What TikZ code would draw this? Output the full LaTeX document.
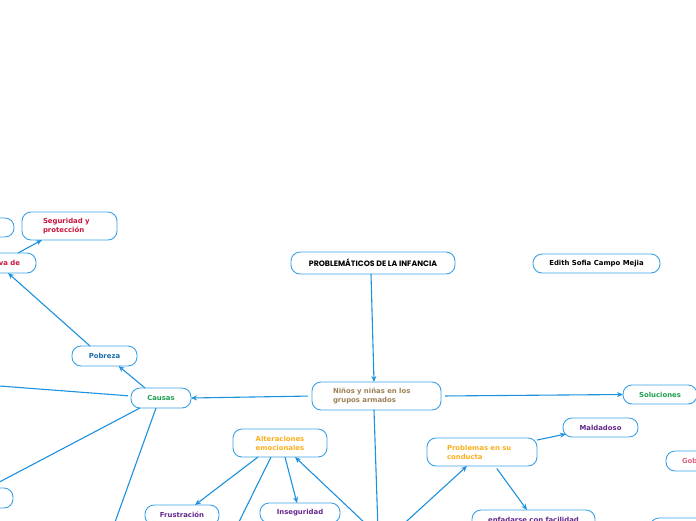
\documentclass[tikz,border=0pt]{standalone}
\usepackage{fontspec}
\setmainfont{DejaVu Sans}
\newfontfamily\titlefont{Poppins}
\usetikzlibrary{arrows.meta}
\definecolor{lineblue}{RGB}{30,145,222}
\definecolor{boxblue}{RGB}{60,162,232}
\definecolor{crimsontxt}{RGB}{200,20,60}
\definecolor{olivetxt}{RGB}{155,130,85}
\definecolor{greentxt}{RGB}{30,160,80}
\definecolor{bluetxt}{RGB}{25,110,170}
\definecolor{goldtxt}{RGB}{250,175,30}
\definecolor{purpletxt}{RGB}{100,40,140}
\definecolor{pinktxt}{RGB}{225,100,130}
\tikzset{
  box/.style={draw=boxblue, line width=0.9pt, rounded corners=9pt, fill=white,
    font=\bfseries\fontsize{6.9}{9}\selectfont, inner ysep=0pt, outer sep=0pt},
  conn/.style={draw=lineblue, line width=1.1pt},
  arr/.style={conn, -{Stealth[length=6pt,width=5pt]}},
}
\begin{document}
\begin{tikzpicture}[x=1pt,y=-1pt]
\useasboundingbox (0,0) rectangle (696,520);
\fill[white] (0,0) rectangle (696,520);

% nodes
\node[box, minimum width=44pt, minimum height=19pt] (tl) at (-8,227.5) {};
\node[box, text=crimsontxt, text width=53pt, inner xsep=21pt, align=left, minimum height=28pt] (seg) at (69.5,226) {Seguridad y\\protección};
\node[box, text=crimsontxt, text width=64pt, inner xsep=16pt, align=right, minimum height=20pt] (va) at (-12,263) {va de};
\node[box, minimum width=164pt, minimum height=22pt, font=\titlefont\bfseries\fontsize{7.8}{9}\selectfont] (title) at (373,263) {PROBLEMÁTICOS DE LA INFANCIA};
\node[box, minimum width=127pt, minimum height=19pt] (edith) at (596.5,263.5) {Edith Sofia Campo Mejia};
\node[box, text=olivetxt, text width=87pt, inner xsep=21pt, align=left, minimum height=28pt] (ninos) at (376.5,396) {Niños y niñas en los\\grupos armados};
\node[box, text=greentxt, minimum width=74pt, minimum height=19pt] (sol) at (660,394.5) {Soluciones};
\node[box, text=bluetxt, minimum width=65pt, minimum height=20pt] (pob) at (104.5,356) {Pobreza};
\node[box, text=greentxt, minimum width=60pt, minimum height=20pt] (causas) at (161,398) {Causas};
\node[box, text=goldtxt, text width=94pt, inner xsep=0pt, align=center, minimum height=28pt] (alt) at (280,443) {Alteraciones\\emocionales};
\node[box, text=purpletxt, minimum width=74pt, minimum height=20pt] (frus) at (182,515) {Frustración};
\node[box, text=purpletxt, minimum width=80pt, minimum height=20pt] (inseg) at (300,513) {Inseguridad};
\node[box, text=goldtxt, text width=70pt, inner xsep=20pt, align=left, minimum height=28pt] (prob) at (482,452) {Problemas en su\\conducta};
\node[box, text=purpletxt, minimum width=75pt, minimum height=19pt] (mald) at (600.5,427.5) {Maldadoso};
\node[box, text=pinktxt, text width=22pt, inner xsep=16pt, align=left, minimum height=20pt] (gob) at (693,461) {Gob};
\node[box, text=purpletxt, text width=123pt, inner xsep=0pt, align=center, inner ysep=6pt, text height=6.5pt, text depth=11.5pt] (enf) at (533.5,525) {enfadarse con facilidad};
\node[box, minimum width=70pt, minimum height=24pt] (br) at (685,530) {};
\node[box, minimum width=73pt, minimum height=20pt] (bl) at (-23.5,498) {};

% off-page ends
\coordinate (left1) at (-40,383);
\coordinate (left2) at (-30,497.5);
\coordinate (down1) at (105,550);
\coordinate (down2) at (232,536);
\coordinate (hubA) at (367,525);
\coordinate (hubB) at (402.5,525);
\coordinate (hubC) at (378,530);

% connectors
\draw[arr] ([xshift=-2pt]title.south) -- ([xshift=-2.5pt]ninos.north);
\draw[arr, shorten <=4pt] (ninos.west) -- (causas.east);
\draw[arr, shorten <=4pt] (ninos.east) -- (sol.west);
\draw[conn] ([xshift=-2.5pt]ninos.south) -- (hubC);
\draw[arr] ([xshift=-16pt]causas.north) -- ([xshift=14pt]pob.south);
\draw[arr] ([xshift=-14.5pt]pob.north) -- ([xshift=20pt]va.south);
\draw[arr] ([xshift=30pt]va.north) -- ([xshift=-27.5pt]seg.south);
\draw[conn, shorten <=3pt] ([yshift=2pt]causas.west) -- (left1);
\draw[conn] ([xshift=-21pt]causas.south) -- (left2);
\draw[conn] ([xshift=-5pt]causas.south) -- (down1);
\draw[arr] ([xshift=-22pt]alt.south) -- ([xshift=13pt]frus.north);
\draw[conn] ([xshift=-9pt]alt.south) -- (down2);
\draw[arr] ([xshift=5pt]alt.south) -- ([xshift=-3pt]inseg.north);
\draw[arr] (hubA) -- ([xshift=15pt]alt.south);
\draw[arr] (hubB) -- ([xshift=-15pt]prob.south);
\draw[arr] ([yshift=-2pt]prob.north east) -- ([xshift=3pt,yshift=-6.5pt]mald.west);
\draw[arr, shorten <=3pt] ([xshift=13pt]prob.south) -- ([xshift=-6.5pt]enf.north);
\end{tikzpicture}
\end{document}
